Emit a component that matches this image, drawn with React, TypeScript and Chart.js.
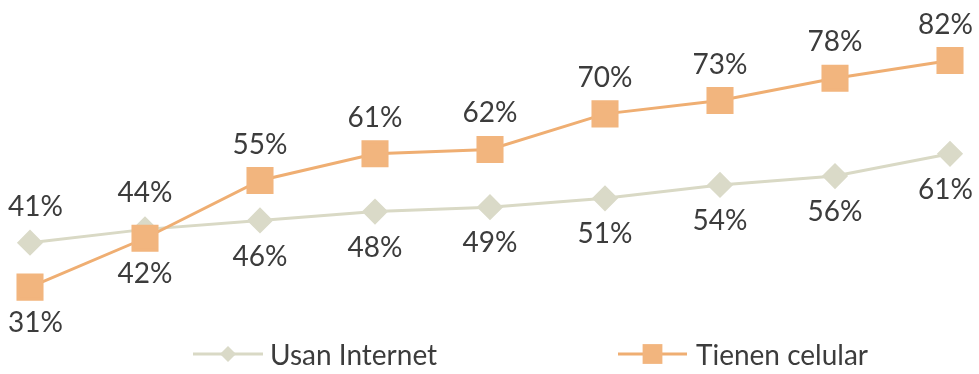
import React, { useEffect, useRef } from "react";
import { Chart, registerables } from "chart.js";

Chart.register(...registerables);

const categories = ["1", "2", "3", "4", "5", "6", "7", "8", "9"];
const usanInternet = [41, 44, 46, 48, 49, 51, 54, 56, 61];
const tienenCelular = [31, 42, 55, 61, 62, 70, 73, 78, 82];
const seriesNames = ["Usan Internet", "Tienen celular"];
// label placement per point: 1 = above, -1 = below
const internetLabelSide = [1, 1, -1, -1, -1, -1, -1, -1, -1];
const celularLabelSide = [-1, -1, 1, 1, 1, 1, 1, 1, 1];

const INTERNET_COLOR = "#D9D9C5";
const INTERNET_POINT = "#DADAC8";
const CELULAR_COLOR = "#EFAE72";
const CELULAR_POINT = "#F2B57E";
const TEXT_COLOR = "#3c3c3c";
const FONT = "Lato, 'Open Sans', sans-serif";

const labelPlugin = {
  id: "pointLabels",
  afterDatasetsDraw(chart: any) {
    const ctx = chart.ctx;
    ctx.save();
    ctx.font = `28px ${FONT}`;
    ctx.fillStyle = TEXT_COLOR;
    ctx.textAlign = "center";
    ctx.textBaseline = "middle";
    chart.data.datasets.forEach((ds: any, di: number) => {
      const meta = chart.getDatasetMeta(di);
      const sides = ds.labelSides as number[];
      meta.data.forEach((pt: any, i: number) => {
        const txt = `${ds.data[i]}%`;
        const w = ctx.measureText(txt).width;
        let x = pt.x;
        if (x - w / 2 < 8) x = 8 + w / 2;
        if (x + w / 2 > chart.width - 6) x = chart.width - 6 - w / 2;
        const y = pt.y - sides[i] * 36;
        ctx.fillText(txt, x, y);
      });
    });
    ctx.restore();
  },
};

const legendPlugin = {
  id: "customLegend",
  afterDraw(chart: any) {
    const ctx = chart.ctx;
    ctx.save();
    const y = 354;
    const items = [
      { x0: 193, x1: 263, tx: 270, color: INTERNET_COLOR, point: INTERNET_POINT, style: "rectRot", r: 8, label: seriesNames[0] },
      { x0: 618, x1: 687, tx: 696, color: CELULAR_COLOR, point: CELULAR_POINT, style: "rect", r: 14, label: seriesNames[1] },
    ];
    items.forEach((it) => {
      ctx.strokeStyle = it.color;
      ctx.lineWidth = 3;
      ctx.beginPath();
      ctx.moveTo(it.x0, y);
      ctx.lineTo(it.x1, y);
      ctx.stroke();
      ctx.fillStyle = it.point;
      ctx.beginPath();
      const cx = (it.x0 + it.x1) / 2;
      if (it.style === "rect") {
        const s = it.r * Math.SQRT1_2;
        ctx.rect(cx - s, y - s, 2 * s, 2 * s);
      } else {
        ctx.moveTo(cx - it.r, y);
        ctx.lineTo(cx, y - it.r);
        ctx.lineTo(cx + it.r, y);
        ctx.lineTo(cx, y + it.r);
        ctx.closePath();
      }
      ctx.fill();
      ctx.fillStyle = TEXT_COLOR;
      ctx.font = `28px ${FONT}`;
      ctx.textAlign = "left";
      ctx.textBaseline = "middle";
      ctx.fillText(it.label, it.tx, y + 2);
    });
    ctx.restore();
  },
};

export default function App() {
  const ref = useRef<HTMLCanvasElement | null>(null);
  useEffect(() => {
    if (!ref.current) return;
    const chart = new Chart(ref.current, {
      type: "line",
      data: {
        labels: categories,
        datasets: [
          {
            label: seriesNames[0],
            data: usanInternet,
            borderColor: INTERNET_COLOR,
            backgroundColor: INTERNET_POINT,
            pointBackgroundColor: INTERNET_POINT,
            pointBorderColor: INTERNET_POINT,
            pointStyle: "rectRot",
            pointRadius: 11,
            borderWidth: 3,
            order: 1,
            clip: false,
            labelSides: internetLabelSide,
          } as any,
          {
            label: seriesNames[1],
            data: tienenCelular,
            borderColor: CELULAR_COLOR,
            backgroundColor: CELULAR_POINT,
            pointBackgroundColor: CELULAR_POINT,
            pointBorderColor: CELULAR_POINT,
            pointStyle: "rect",
            pointRadius: 17,
            borderWidth: 3,
            order: 0,
            clip: false,
            labelSides: celularLabelSide,
          } as any,
        ],
      },
      options: {
        animation: false,
        responsive: false,
        devicePixelRatio: 1,
        layout: { padding: { left: 30, right: 29, top: 25, bottom: 38 } },
        scales: {
          x: { display: false, offset: false },
          y: { display: false, min: 20, max: 90 },
        },
        plugins: { legend: { display: false }, tooltip: { enabled: false } },
        elements: { line: { tension: 0 } },
      },
      plugins: [labelPlugin, legendPlugin],
    });
    return () => chart.destroy();
  }, []);
  return (
    <canvas
      ref={ref}
      width={979}
      height={374}
      style={{ position: "absolute", left: 0, top: 0, width: 979, height: 374, display: "block" }}
    />
  );
}
